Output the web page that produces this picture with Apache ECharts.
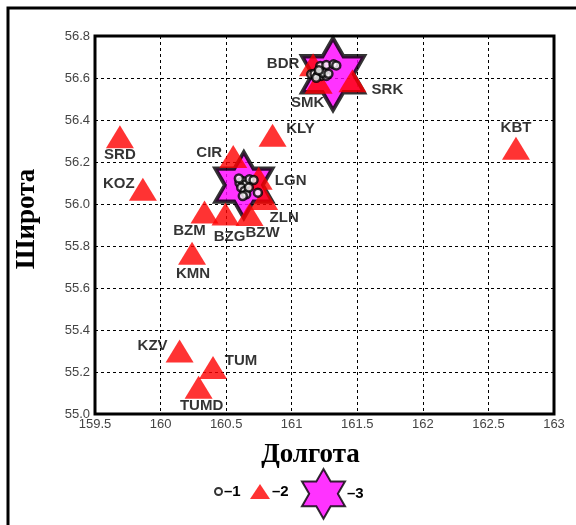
<!DOCTYPE html>
<html>
<head>
<meta charset="utf-8">
<script src="https://cdn.jsdelivr.net/npm/echarts@6/dist/echarts.min.js"></script>
<style>
html,body{margin:0;padding:0;background:#fff;}
#chart{width:576px;height:525px;}
</style>
</head>
<body>
<div id="chart"></div>
<script>
// ---- data ----
const stationNames = ['BDR','SMK','SRK','KLY','KBT','SRD','CIR','KOZ','LGN','ZLN','BZM','BZG','BZW','KMN','KZV','TUM','TUMD'];
const stationLon   = [161.163,161.205,161.463,160.854,162.71,159.69,160.554,159.865,160.748,160.79,160.335,160.495,160.678,160.24,160.145,160.40,160.29];
const stationLat   = [56.663,56.58,56.587,56.327,56.265,56.32,56.226,56.07,56.123,56.026,55.962,55.952,55.95,55.766,55.30,55.221,55.127];

const eventLon = [161.218,161.264,161.319,161.340,161.149,161.174,161.200,161.225,161.264,161.187,161.238,161.207,161.280,
                  160.602,160.627,160.653,160.615,160.640,160.653,160.678,160.709,160.673,160.742,160.627,160.597];
const eventLat = [56.657,56.662,56.665,56.660,56.618,56.620,56.613,56.610,56.610,56.601,56.625,56.637,56.620,
                  56.101,56.110,56.094,56.078,56.062,56.046,56.118,56.114,56.078,56.054,56.038,56.122];

const starLon = [161.315,160.635];
const starLat = [56.618,56.090];

const legendNames = ['–1','–2','–3'];
const xAxisMin = 159.5, xAxisMax = 163, xAxisStep = 0.5;
const yAxisMin = 55.0, yAxisMax = 56.8, yAxisStep = 0.2;
const xTitle = 'Долгота', yTitle = 'Широта';

// ---- styling (not data) ----
const labelOffsets = {
  BDR:[-30,-1], SMK:[-11,21], SRK:[35,9], KLY:[28,-6], KBT:[0,-20], SRD:[0,18],
  CIR:[-24,-4], KOZ:[-24,-5], LGN:[32,3], ZLN:[20,19], BZM:[-15,19], BZG:[4,23],
  BZW:[13,18], KMN:[1,21], KZV:[-27,-5], TUM:[28,-7], TUMD:[3,19]
};
const starSizes = [[62,72],[57,66]];
const hexPath = 'path://M100,0L128.87,50L186.6,50L157.74,100L186.6,150L128.87,150L100,200L71.13,150L13.4,150L42.26,100L13.4,50L71.13,50Z';
const sans = "'Liberation Sans', Arial, sans-serif";
const serif = "'Liberation Serif', 'Times New Roman', serif";

const stationData = stationNames.map((n,i)=>({name:n, value:[stationLon[i], stationLat[i]],
  label:{offset:labelOffsets[n]}}));
const eventData = eventLon.map((v,i)=>[v, eventLat[i]]);
const starData = starLon.map((v,i)=>[v, starLat[i]]);

const legendText = {color:'#000', fontFamily:sans, fontWeight:'bold', fontSize:15, padding:[0,0,0,-3]};

const chart = echarts.init(document.getElementById('chart'), null, {renderer:'canvas'});
chart.setOption({
  animation:false,
  backgroundColor:'#fff',
  graphic:[{type:'rect', shape:{x:8,y:8,width:620,height:620}, style:{fill:'none', stroke:'#000', lineWidth:3}, silent:true}],
  grid:{left:95, top:36, width:459, height:378, show:true, borderColor:'#000', borderWidth:3, backgroundColor:'transparent'},
  xAxis:{
    type:'value', min:xAxisMin, max:xAxisMax, interval:xAxisStep,
    name:xTitle, nameLocation:'middle', nameGap:28,
    nameTextStyle:{fontFamily:serif, fontWeight:'bold', fontSize:27, color:'#000', padding:[0,28,0,0]},
    axisLine:{show:false}, axisTick:{show:false},
    axisLabel:{color:'#444', fontFamily:sans, fontSize:13, margin:4},
    splitLine:{show:true, lineStyle:{color:'#000', width:1, type:[3,3]}}
  },
  yAxis:{
    type:'value', min:yAxisMin, max:yAxisMax, interval:yAxisStep,
    name:yTitle, nameLocation:'middle', nameGap:54, nameRotate:90,
    nameTextStyle:{fontFamily:serif, fontWeight:'bold', fontSize:27, color:'#000', padding:[0,0,0,12]},
    axisLine:{show:false}, axisTick:{show:false},
    axisLabel:{color:'#444', fontFamily:sans, fontSize:13, margin:5, formatter:v=>v.toFixed(1)},
    splitLine:{show:true, lineStyle:{color:'#000', width:1, type:[3,3]}}
  },
  legend:[
    {data:[legendNames[0]], left:214, top:484, padding:0, itemWidth:7, itemHeight:7, selectedMode:false, textStyle:legendText},
    {data:[legendNames[1]], left:250, top:484, padding:0, itemWidth:20, itemHeight:15, selectedMode:false, textStyle:legendText},
    {data:[legendNames[2]], left:301, top:468, padding:0, itemWidth:43, itemHeight:50, selectedMode:false, textStyle:legendText}
  ],
  series:[
    {name:legendNames[2], type:'scatter', data:starData, symbol:hexPath,
     symbolSize:(v,p)=>starSizes[p.dataIndex],
     itemStyle:{color:'#ff00ff', borderColor:'#000', borderWidth:4}, z:2},
    {name:legendNames[1], type:'scatter', data:stationData, symbol:'triangle', symbolSize:[28,23],
     itemStyle:{color:'#ff0000'},
     label:{show:true, position:'inside', formatter:'{b}', color:'#000', textBorderWidth:0,
            fontFamily:sans, fontWeight:'bold', fontSize:15},
     z:3},
    {name:legendNames[0], type:'scatter', data:eventData, symbol:'circle', symbolSize:8,
     itemStyle:{color:'#fff', borderColor:'#000', borderWidth:2.5}, z:4}
  ]
});
</script>
</body>
</html>
